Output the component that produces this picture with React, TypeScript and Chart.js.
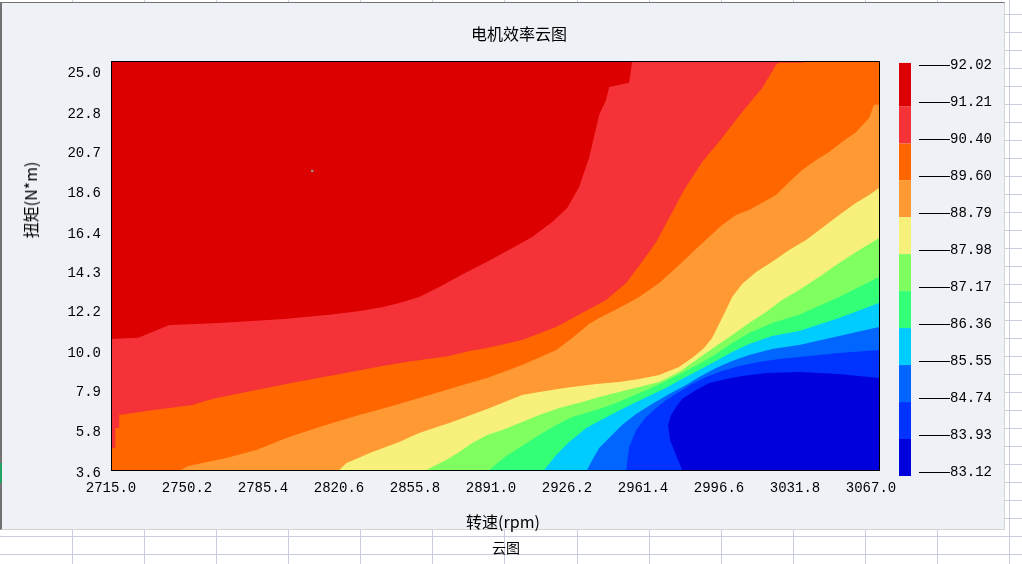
import React, { useEffect, useRef } from 'react';
import { Chart, registerables } from 'chart.js';

Chart.register(...registerables);

// ---------- axis ticks / levels ----------
const X_TICKS = [2715.0, 2750.2, 2785.4, 2820.6, 2855.8, 2891.0, 2926.2, 2961.4, 2996.6, 3031.8, 3067.0];
const Y_TICKS = [3.6, 5.8, 7.9, 10.0, 12.2, 14.3, 16.4, 18.6, 20.7, 22.8, 25.0];
const LEVELS = [83.12, 83.93, 84.74, 85.55, 86.36, 87.17, 87.98, 88.79, 89.6, 90.4, 91.21, 92.02];

// ---------- contour boundaries [转速 rpm, 扭矩 N*m] ----------
const C_91_21 = [[2715.0,10.62],[2727.6,10.68],[2736.4,11.10],[2742.0,11.37],[2765.1,11.48],[2795.2,11.69],[2816.1,11.91],[2830.4,12.12],[2841.1,12.33],[2848.5,12.55],[2857.7,12.87],[2867.9,13.46],[2877.2,14.05],[2889.2,14.75],[2901.7,15.55],[2910.1,16.08],[2919.3,16.89],[2926.3,17.64],[2931.8,18.76],[2936.4,20.32],[2941.1,22.62],[2944.3,23.43],[2945.7,24.12],[2955.0,24.34],[2956.4,25.51]];
const C_90_40 = [[2715.0,4.78],[2717.0,4.78],[2717.0,5.85],[2718.8,5.85],[2718.8,6.55],[2731.3,6.76],[2752.6,7.08],[2761.9,7.40],[2777.6,7.78],[2791.5,8.10],[2800.8,8.31],[2816.1,8.64],[2830.9,8.96],[2840.6,9.17],[2851.7,9.39],[2871.6,9.71],[2880.9,9.97],[2889.2,10.14],[2905.4,10.57],[2921.2,11.26],[2933.2,12.01],[2944.3,12.71],[2953.6,13.62],[2961.0,14.75],[2967.5,15.82],[2973.5,17.10],[2980.4,18.60],[2988.8,20.10],[2998.0,21.39],[3007.3,22.78],[3016.6,24.07],[3023.0,25.30],[3024.4,25.41],[3036.0,25.41],[3036.0,25.51]];
const C_89_60 = [[2747.1,3.60],[2750.8,3.81],[2768.4,4.24],[2782.3,4.67],[2796.2,5.31],[2810.1,5.85],[2826.7,6.44],[2845.2,7.03],[2865.6,7.73],[2879.5,8.21],[2889.2,8.53],[2905.4,9.23],[2921.2,10.03],[2928.6,10.67],[2936.4,11.42],[2941.1,11.74],[2950.3,12.28],[2959.6,12.87],[2968.9,13.62],[2978.1,14.58],[2987.4,15.60],[2998.0,16.73],[3004.5,17.26],[3010.5,17.53],[3016.6,17.91],[3023.0,18.33],[3029.1,19.03],[3035.1,19.67],[3041.6,20.21],[3047.6,20.64],[3053.6,21.17],[3060.1,21.71],[3066.1,22.46],[3068.4,23.16],[3070.7,23.16]];
const C_88_79 = [[2820.7,3.60],[2824.0,3.97],[2836.0,4.56],[2848.5,5.10],[2857.7,5.58],[2873.0,6.17],[2889.2,6.87],[2905.4,7.62],[2913.3,7.78],[2925.8,8.00],[2939.7,8.21],[2950.3,8.32],[2959.6,8.48],[2968.9,8.69],[2978.1,9.12],[2984.1,9.60],[2989.7,10.14],[2993.4,10.67],[2995.7,11.21],[2998.0,11.74],[3000.3,12.28],[3002.7,12.87],[3007.3,13.57],[3013.8,14.21],[3021.2,14.75],[3029.1,15.39],[3036.9,15.92],[3044.3,16.57],[3052.2,17.26],[3060.1,17.91],[3066.1,18.33],[3070.7,18.71]];
const C_87_98 = [[2861.0,3.60],[2863.8,3.76],[2870.2,4.14],[2876.3,4.56],[2882.3,5.05],[2889.2,5.48],[2896.2,5.74],[2905.4,6.17],[2913.3,6.55],[2922.6,6.92],[2933.2,7.24],[2941.1,7.51],[2950.3,7.78],[2959.6,8.05],[2968.9,8.32],[2978.1,8.85],[2984.1,9.33],[2990.6,9.87],[2996.6,10.35],[3002.7,10.83],[3010.5,11.48],[3018.4,12.06],[3025.8,12.71],[3033.7,13.24],[3044.3,14.05],[3052.2,14.69],[3060.1,15.28],[3070.7,16.03]];
const C_87_17 = [[2890.2,3.60],[2893.4,3.92],[2898.0,4.35],[2905.4,4.89],[2913.3,5.48],[2921.2,6.01],[2928.6,6.44],[2935.1,6.66],[2941.1,6.87],[2949.0,7.19],[2956.4,7.56],[2964.2,7.94],[2972.1,8.37],[2979.5,8.80],[2987.4,9.28],[2995.2,9.82],[3002.7,10.41],[3010.5,10.94],[3021.2,11.48],[3033.7,11.91],[3052.2,12.87],[3070.7,13.94]];
const C_86_36 = [[2915.6,3.60],[2921.2,4.40],[2927.2,5.10],[2935.1,5.85],[2941.1,6.23],[2949.0,6.71],[2956.4,7.14],[2964.2,7.57],[2972.1,8.00],[2979.5,8.48],[2987.4,8.96],[2995.2,9.44],[3002.7,9.92],[3010.5,10.35],[3021.2,10.78],[3033.7,11.05],[3052.2,11.74],[3070.7,12.55]];
const C_85_55 = [[2935.5,3.60],[2937.9,4.14],[2941.1,4.78],[2945.7,5.31],[2951.7,6.01],[2958.2,6.60],[2965.6,7.14],[2973.5,7.67],[2981.4,8.16],[2987.4,8.58],[2995.2,9.07],[3002.7,9.44],[3010.5,9.76],[3021.2,10.08],[3033.7,10.30],[3052.2,10.78],[3070.7,11.26]];
const C_84_74 = [[2953.6,3.60],[2955.0,4.83],[2958.2,5.74],[2962.8,6.44],[2967.5,6.92],[2972.1,7.35],[2978.1,7.78],[2984.1,8.21],[2990.6,8.58],[2998.0,8.90],[3005.9,9.17],[3015.2,9.39],[3024.4,9.55],[3033.7,9.65],[3052.2,9.87],[3070.7,10.03]];
const C_83_93 = [[2979.5,3.60],[2976.7,4.40],[2973.9,5.21],[2973.0,6.01],[2974.4,6.55],[2976.7,6.97],[2979.5,7.40],[2986.0,7.89],[2992.0,8.26],[2999.9,8.48],[3007.3,8.64],[3018.4,8.80],[3033.7,8.85],[3052.2,8.74],[3070.7,8.53]];
const ODD_CELL = [[2808.2, 19.62]];

// band colours, lowest (83.12-83.93) to highest (91.21-92.02)
const BAND_COLORS = ['#0000DD', '#0033FF', '#0066FF', '#00CCFF', '#33FF77', '#80FF60', '#F7F07A', '#FF9933', '#FF6600', '#F53237', '#DD0000'];

// ---------- scale extents ----------
const X_MIN = 2715.0, X_MAX = 3070.7;
const Y_MIN = 3.6, Y_MAX = 25.51;
const X_LO = 2680, X_HI = 3110, Y_LO = 1, Y_HI = 30;

const CB_MIN = 82.945, CB_MAX = 92.143;
const CB_SHIFT = 0.0876;
const CB_TOP = 0.059;

const TICK_FONT = { family: "'Liberation Mono', monospace", size: 14 };
const CJK = "'Noto Sans CJK SC', 'Noto Sans', sans-serif";

function closePoly(pts: number[][]) {
  const [x0, y0] = pts[0];
  const [x1, y1] = pts[pts.length - 1];
  const head = x0 <= X_MIN + 0.01 ? [X_LO, y0] : [x0, Y_LO];
  const tail = y1 >= Y_MAX - 0.01 ? [x1, Y_HI] : [X_HI, y1];
  return [head, ...pts, tail, [X_HI, Y_HI], [X_LO, Y_HI], [X_LO, Y_LO]];
}

function polyDataset(pts: number[][], color: string) {
  return {
    data: pts.map(([x, y]) => ({ x, y })),
    showLine: true,
    fill: 'shape',
    backgroundColor: color,
    borderColor: color,
    borderWidth: 0,
    pointRadius: 0,
    pointHoverRadius: 0,
    tension: 0,
  };
}

const framePlugin = {
  id: 'plotFrame',
  afterDatasetsDraw(chart: any) {
    const { ctx, chartArea: a } = chart;
    ctx.save();
    ctx.strokeStyle = '#000';
    ctx.lineWidth = 1;
    ctx.strokeRect(a.left + 0.5, a.top + 0.5, a.right - a.left, a.bottom - a.top);
    ctx.restore();
  },
};

const V_GRID = Array.from({ length: 14 }, (_, i) => Math.round(72.07 * (i + 1)));
const H_GRID = Array.from({ length: 31 }, (_, i) => 14 + 18 * i);

export default function App() {
  const mainRef = useRef<HTMLCanvasElement>(null);
  const barRef = useRef<HTMLCanvasElement>(null);

  useEffect(() => {
    const boundaries = [C_91_21, C_90_40, C_89_60, C_88_79, C_87_98, C_87_17, C_86_36, C_85_55, C_84_74, C_83_93];
    const datasets: any[] = [
      {
        data: ODD_CELL.map(([x, y]) => ({ x, y })),
        pointStyle: 'rect',
        pointRadius: 1.6,
        pointHoverRadius: 1.6,
        backgroundColor: '#9a9a9a',
        borderWidth: 0,
        showLine: false,
      },
    ];
    boundaries.forEach((b, i) => {
      datasets.push(polyDataset(closePoly(b), BAND_COLORS[10 - i]));
    });
    datasets.push(polyDataset([[X_LO, Y_LO], [X_HI, Y_LO], [X_HI, Y_HI], [X_LO, Y_HI]], BAND_COLORS[0]));

    const main = new Chart(mainRef.current as HTMLCanvasElement, {
      type: 'scatter',
      data: { datasets },
      options: {
        responsive: false,
        animation: false,
        events: [],
        layout: { padding: { left: 0, top: 61, right: 143, bottom: 54 } },
        plugins: { legend: { display: false }, tooltip: { enabled: false }, title: { display: false } },
        scales: {
          x: {
            type: 'linear',
            position: 'bottom',
            min: X_MIN,
            max: X_MAX,
            afterBuildTicks: (s: any) => { s.ticks = X_TICKS.map((v) => ({ value: v })); },
            afterFit: (s: any) => { s.height = 40; },
            grid: { display: false, drawTicks: false },
            border: { display: false },
            ticks: {
              color: '#000',
              font: TICK_FONT,
              padding: 10,
              autoSkip: false,
              maxRotation: 0,
              callback: (v: any) => Number(v).toFixed(1),
            },
          },
          y: {
            type: 'linear',
            position: 'left',
            min: Y_MIN,
            max: Y_MAX,
            afterBuildTicks: (s: any) => { s.ticks = Y_TICKS.map((v) => ({ value: v })); },
            afterFit: (s: any) => { s.width = 111; },
            grid: { display: false, drawTicks: false },
            border: { display: false },
            ticks: {
              color: '#000',
              font: TICK_FONT,
              padding: 10,
              labelOffset: 3,
              autoSkip: false,
              callback: (v: any) => Number(v).toFixed(1),
            },
          },
        },
      } as any,
      plugins: [framePlugin],
    });

    const bar = new Chart(barRef.current as HTMLCanvasElement, {
      type: 'bar',
      data: {
        labels: [''],
        datasets: BAND_COLORS.map((c, k) => ({
          data: [[LEVELS[k] - CB_SHIFT, k === BAND_COLORS.length - 1 ? LEVELS[k + 1] + CB_TOP : LEVELS[k + 1] - CB_SHIFT]],
          backgroundColor: c,
          borderWidth: 0,
          grouped: false,
          barPercentage: 12 / 28,
          categoryPercentage: 1,
        })) as any,
      },
      options: {
        responsive: false,
        animation: false,
        events: [],
        layout: { padding: { left: 11, top: 60, right: 0, bottom: 84 } },
        plugins: { legend: { display: false }, tooltip: { enabled: false } },
        scales: {
          x: { display: false },
          y: {
            position: 'right',
            min: CB_MIN,
            max: CB_MAX,
            beginAtZero: false,
            afterBuildTicks: (s: any) => { s.ticks = LEVELS.map((v) => ({ value: v })); },
            afterFit: (s: any) => { s.width = 81; },
            grid: { display: true, drawOnChartArea: false, drawTicks: true, tickLength: 31, tickColor: '#000', tickWidth: 1 },
            border: { display: false },
            ticks: {
              color: '#000',
              font: TICK_FONT,
              padding: 0,
              autoSkip: false,
              callback: (v: any) => Number(v).toFixed(2),
            },
          },
        },
      } as any,
    });

    return () => {
      main.destroy();
      bar.destroy();
    };
  }, []);

  const textBase: React.CSSProperties = {
    position: 'absolute',
    whiteSpace: 'nowrap',
    lineHeight: 1,
    color: '#000',
    fontFamily: CJK,
  };

  return (
    <div style={{ position: 'fixed', left: 0, top: 0, width: 1022, height: 564, background: '#fff', overflow: 'hidden' }}>
      {V_GRID.map((x) => (
        <div key={'v' + x} style={{ position: 'absolute', left: x, top: 0, width: 1, height: 564, background: '#C8CEDF' }} />
      ))}
      {H_GRID.map((y) => (
        <div key={'h' + y} style={{ position: 'absolute', left: 0, top: y, width: 1022, height: 1, background: '#C8CEDF' }} />
      ))}
      <div
        style={{
          position: 'absolute',
          left: 0,
          top: 2,
          width: 1005,
          height: 528,
          boxSizing: 'border-box',
          background: '#EEF1F6',
          borderLeft: '2px solid #727272',
          borderTop: '1px solid #727272',
          borderRight: '1px solid #D4D4D4',
          borderBottom: '1px solid #D4D4D4',
        }}
      />
      <div style={{ position: 'absolute', left: 0, top: 463, width: 2, height: 20, background: '#21A366' }} />
      <canvas ref={mainRef} width={1022} height={564} style={{ position: 'absolute', left: 0, top: 0, width: 1022, height: 564 }} />
      <canvas ref={barRef} width={120} height={564} style={{ position: 'absolute', left: 880, top: 0, width: 120, height: 564 }} />
      <div style={{ ...textBase, left: 519, top: 33, fontSize: 16, transform: 'translate(-50%, -50%)' }}>电机效率云图</div>
      <div style={{ ...textBase, left: 503, top: 521, fontSize: 16, transform: 'translate(-50%, -50%)' }}>转速(rpm)</div>
      <div style={{ ...textBase, left: 29.5, top: 200, fontSize: 16, transform: 'translate(-50%, -50%) rotate(-90deg)' }}>扭矩(N*m)</div>
      <div style={{ ...textBase, left: 506, top: 546.5, fontSize: 14, transform: 'translate(-50%, -50%)' }}>云图</div>
    </div>
  );
}
